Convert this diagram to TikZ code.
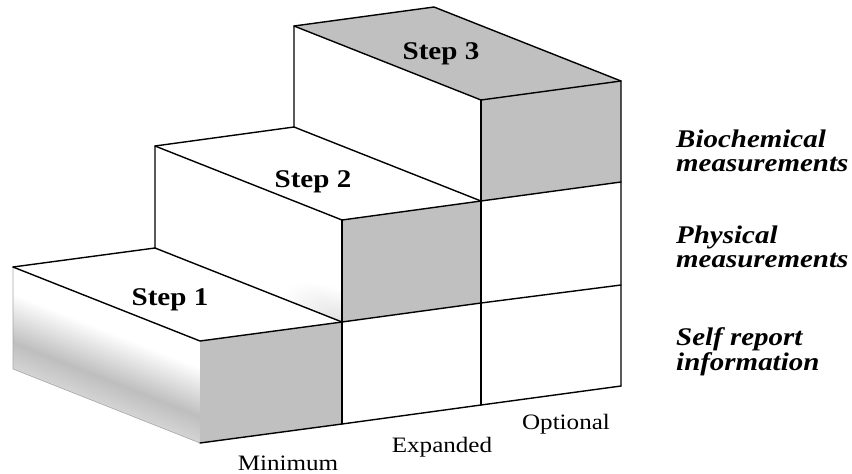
\documentclass[tikz,border=0pt]{standalone}
\usepackage{fontspec}
\setmainfont[FakeStretch=1.14]{Liberation Serif}
\definecolor{facegray}{HTML}{C0C0C0}
\definecolor{shA}{HTML}{D4D4D4}
\definecolor{shB}{HTML}{BEBEBE}
\definecolor{shC}{HTML}{E2E2E2}
\pgfdeclareverticalshading{faceshade}{100bp}{color(0bp)=(shA); color(25bp)=(shA); color(38bp)=(shB); color(62bp)=(white); color(100bp)=(white)}
\begin{document}
\begin{tikzpicture}[x=1pt,y=-1pt,
  edge/.style={line width=1.4pt, line join=round, line cap=round},
  softedge/.style={line width=0.6pt, draw=black!35},
  grayface/.style={fill=facegray},
  whiteface/.style={fill=white},
  steplabel/.style={anchor=base, inner sep=0pt, font=\fontsize{25.5}{28}\selectfont\bfseries},
  rowlabel/.style={anchor=base west, inner sep=0pt, font=\fontsize{25.4}{24.5}\selectfont\bfseries\itshape},
  collabel/.style={anchor=base, inner sep=0pt, font=\fontsize{22}{24}\selectfont}]
\useasboundingbox (0,0) rectangle (852,474);
% ---- lattice points
% step 1
\coordinate (a1) at (13,267);
\coordinate (b1) at (155,248);
\coordinate (c1) at (342,322);
\coordinate (d1) at (200,341);
\coordinate (e1) at (13,369);
\coordinate (f1) at (200,443);
\coordinate (g1) at (342,424);
% step 2
\coordinate (a2) at (155,146);
\coordinate (b2) at (294,127);
\coordinate (c2) at (481,201);
\coordinate (d2) at (342,220);
\coordinate (g2) at (481,303);
\coordinate (h2) at (481,405);
% step 3
\coordinate (a3) at (294,26);
\coordinate (b3) at (434,7);
\coordinate (c3) at (621,81);
\coordinate (d3) at (481,100);
\coordinate (r1) at (621,182);
\coordinate (r2) at (621,285);
\coordinate (r3) at (621,386);
% ---- faces
\begin{scope}[transform canvas={cm={18.7,-7.4,0,10.2,(13pt,-369pt)}}]
  \shade[shading=faceshade] (0pt,0pt) rectangle (10pt,10pt);
\end{scope}
\fill[grayface] (d1) -- (c1) -- (g1) -- (f1) -- cycle;
\fill[whiteface] (a1) -- (b1) -- (c1) -- (d1) -- cycle;
\fill[whiteface] (a2) -- (d2) -- (c1) -- (b1) -- cycle;
\begin{scope}[transform canvas={cm={18.7,-7.4,0,10.2,(155pt,-248pt)}}]
  \clip (0pt,0pt) rectangle (10pt,10pt);
  \shade[inner color=shC, outer color=white] (10pt,0pt) circle[radius=3.2pt];
\end{scope}
\fill[whiteface] (a2) -- (b2) -- (c2) -- (d2) -- cycle;
\fill[grayface] (d2) -- (c2) -- (g2) -- (c1) -- cycle;
\fill[whiteface] (c1) -- (g2) -- (h2) -- (g1) -- cycle;
\fill[whiteface] (c2) -- (r1) -- (r2) -- (g2) -- cycle;
\fill[whiteface] (g2) -- (r2) -- (r3) -- (h2) -- cycle;
\fill[whiteface] (a3) -- (d3) -- (c2) -- (b2) -- cycle;
\fill[grayface] (a3) -- (b3) -- (c3) -- (d3) -- cycle;
\fill[grayface] (d3) -- (c3) -- (r1) -- (c2) -- cycle;
% ---- soft outline of the shaded side
\draw[softedge] (a1) -- (e1) -- (f1);
% ---- edges
\draw[edge] (a1) -- (b1);
\draw[edge] (a1) -- (d1) -- (c1) -- (g2) -- (r2);
\draw[edge] (f1) -- (g1) -- (h2) -- (r3);
\draw[edge] (b1) -- (c1);
\draw[edge] (b1) -- (a2) -- (b2);
\draw[edge] (a2) -- (d2) -- (c2) -- (r1);
\draw[edge] (d2) -- (g1);
\draw[edge] (b2) -- (c2);
\draw[edge] (b2) -- (a3) -- (b3) -- (c3) -- (r3);
\draw[edge] (a3) -- (d3) -- (c3);
\draw[edge] (d3) -- (h2);
% ---- labels
\node[steplabel] (s1) at (170,305) {Step 1};
\node[steplabel] (s2) at (313,187) {Step 2};
\node[steplabel] (s3) at (441,59) {Step 3};
\node[rowlabel] (lbio) at (676,147) {\begin{tabular}[t]{@{}l@{}}Biochemical\\measurements\end{tabular}};
\node[rowlabel] (lphys) at (676,243) {\begin{tabular}[t]{@{}l@{}}Physical\\measurements\end{tabular}};
\node[rowlabel] (lself) at (676,345) {\begin{tabular}[t]{@{}l@{}}Self report\\information\end{tabular}};
\node[collabel] (lmin) at (288,470) {Minimum};
\node[collabel] (lexp) at (442,452) {Expanded};
\node[collabel] (lopt) at (566,429) {Optional};
\end{tikzpicture}
\end{document}
